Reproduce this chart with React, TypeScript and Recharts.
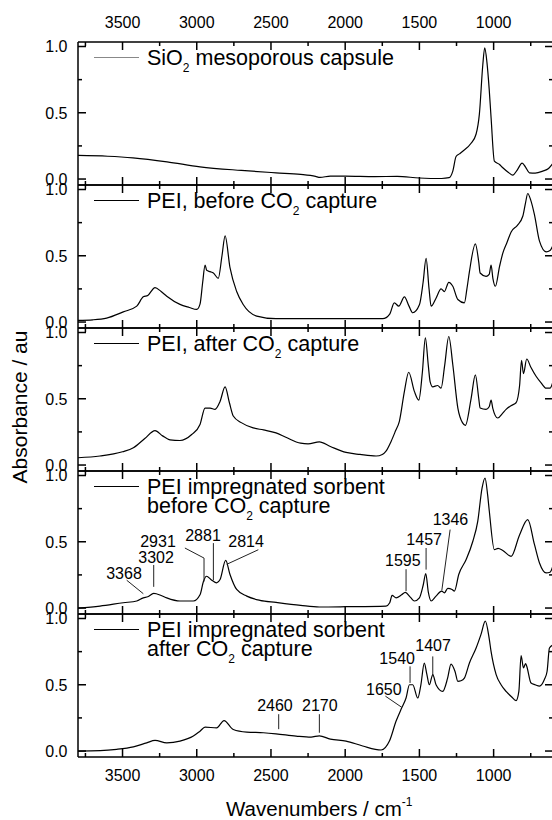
import React from 'react';
import { LineChart, Line, XAxis, YAxis, ReferenceLine, ReferenceDot } from 'recharts';

const FONT = '"Liberation Sans", Arial, Helvetica, sans-serif';

// wavenumber ticks: labelled majors every 500, minors in between
const xTicks = [3750, 3500, 3250, 3000, 2750, 2500, 2250, 2000, 1750, 1500, 1250, 1000, 750];
const yTicks = [0, 0.25, 0.5, 0.75, 1];

// SiO2 mesoporous capsule
const sio2Wn = [3800, 3600, 3430, 3200, 2978, 2700, 2466, 2300, 2200, 2170, 2100, 2000, 1800, 1650, 1500, 1350, 1300, 1275, 1253, 1230, 1208, 1152, 1118, 1096, 1073, 1060, 1045, 1030, 1017, 995, 960, 938, 900, 871, 840, 808, 785, 759, 720, 669, 630, 600];
const sio2Abs = [0.178, 0.172, 0.16, 0.13, 0.092, 0.065, 0.047, 0.035, 0.02, 0.012, 0.022, 0.022, 0.018, 0.02, 0.008, 0.004, 0.01, 0.06, 0.17, 0.19, 0.21, 0.27, 0.34, 0.49, 0.86, 0.99, 0.88, 0.68, 0.46, 0.135, 0.11, 0.085, 0.05, 0.03, 0.07, 0.12, 0.09, 0.047, 0.045, 0.06, 0.08, 0.12];

// PEI, before CO2 capture
const peiBeforeWn = [3800, 3700, 3607, 3495, 3404, 3360, 3330, 3281, 3240, 3202, 3113, 3050, 3000, 2978, 2960, 2944, 2933, 2910, 2888, 2855, 2830, 2809, 2776, 2731, 2686, 2596, 2466, 2200, 1747, 1700, 1669, 1639, 1601, 1570, 1545, 1500, 1475, 1455, 1435, 1421, 1388, 1354, 1332, 1302, 1275, 1241, 1197, 1180, 1163, 1123, 1100, 1091, 1051, 1030, 1017, 1005, 988, 960, 938, 910, 882, 840, 803, 785, 770, 750, 725, 691, 646, 620, 600];
const peiBeforeAbs = [0.013, 0.017, 0.03, 0.077, 0.12, 0.19, 0.2, 0.26, 0.23, 0.195, 0.133, 0.11, 0.095, 0.135, 0.3, 0.43, 0.39, 0.38, 0.37, 0.33, 0.5, 0.65, 0.41, 0.23, 0.13, 0.045, 0.025, 0.025, 0.025, 0.06, 0.145, 0.12, 0.19, 0.12, 0.07, 0.13, 0.3, 0.48, 0.25, 0.12, 0.18, 0.25, 0.23, 0.3, 0.27, 0.17, 0.145, 0.25, 0.38, 0.59, 0.45, 0.37, 0.345, 0.36, 0.43, 0.33, 0.27, 0.42, 0.52, 0.6, 0.68, 0.73, 0.8, 0.9, 0.97, 0.92, 0.81, 0.61, 0.53, 0.54, 0.58];

// PEI, after CO2 capture
const peiAfterWn = [3800, 3652, 3500, 3427, 3350, 3281, 3230, 3180, 3113, 3034, 2978, 2944, 2910, 2877, 2843, 2809, 2780, 2754, 2700, 2620, 2550, 2466, 2400, 2300, 2250, 2174, 2100, 1994, 1900, 1792, 1750, 1725, 1690, 1660, 1635, 1601, 1572, 1534, 1504, 1480, 1460, 1440, 1428, 1410, 1377, 1354, 1330, 1302, 1275, 1241, 1210, 1190, 1152, 1123, 1100, 1091, 1051, 1030, 1017, 1006, 972, 940, 916, 880, 849, 825, 812, 799, 777, 750, 714, 680, 646, 620, 600];
const peiAfterAbs = [0.055, 0.068, 0.1, 0.13, 0.2, 0.26, 0.22, 0.19, 0.185, 0.23, 0.306, 0.43, 0.43, 0.42, 0.48, 0.59, 0.47, 0.37, 0.32, 0.28, 0.265, 0.243, 0.21, 0.165, 0.16, 0.175, 0.14, 0.095, 0.08, 0.068, 0.08, 0.105, 0.18, 0.26, 0.33, 0.556, 0.7, 0.556, 0.49, 0.7, 0.96, 0.75, 0.63, 0.59, 0.6, 0.58, 0.75, 0.97, 0.757, 0.43, 0.32, 0.3, 0.5, 0.68, 0.5, 0.43, 0.42, 0.44, 0.49, 0.43, 0.355, 0.39, 0.42, 0.45, 0.47, 0.6, 0.79, 0.69, 0.8, 0.74, 0.67, 0.62, 0.58, 0.58, 0.63];

// PEI impregnated sorbent, before CO2 capture
const sorbBeforeWn = [3800, 3652, 3495, 3404, 3360, 3330, 3290, 3240, 3202, 3113, 3023, 2978, 2955, 2935, 2899, 2866, 2843, 2805, 2776, 2731, 2663, 2574, 2466, 2300, 2174, 1994, 1725, 1700, 1684, 1657, 1620, 1595, 1560, 1534, 1500, 1475, 1457, 1440, 1421, 1388, 1350, 1332, 1309, 1280, 1264, 1235, 1185, 1140, 1107, 1078, 1058, 1040, 1029, 995, 970, 938, 882, 826, 770, 725, 691, 646, 620, 600];
const sorbBeforeAbs = [0.0, 0.015, 0.04, 0.053, 0.077, 0.085, 0.11, 0.095, 0.077, 0.053, 0.053, 0.1, 0.2, 0.24, 0.21, 0.19, 0.215, 0.36, 0.253, 0.14, 0.09, 0.058, 0.042, 0.02, 0.008, 0.01, 0.015, 0.04, 0.095, 0.077, 0.1, 0.118, 0.08, 0.053, 0.077, 0.17, 0.26, 0.12, 0.053, 0.09, 0.128, 0.115, 0.148, 0.14, 0.128, 0.253, 0.366, 0.504, 0.654, 0.905, 0.98, 0.85, 0.73, 0.44, 0.45, 0.434, 0.39, 0.55, 0.667, 0.48, 0.34, 0.265, 0.27, 0.32];

// PEI impregnated sorbent, after CO2 capture
const sorbAfterWn = [3800, 3650, 3539, 3427, 3337, 3281, 3202, 3113, 3023, 2978, 2944, 2866, 2816, 2754, 2663, 2551, 2466, 2331, 2230, 2174, 2100, 1994, 1882, 1758, 1702, 1657, 1619, 1590, 1567, 1545, 1511, 1490, 1467, 1450, 1433, 1410, 1388, 1343, 1310, 1287, 1260, 1241, 1220, 1197, 1163, 1118, 1085, 1056, 1030, 1017, 983, 950, 916, 880, 849, 830, 815, 799, 785, 777, 748, 720, 691, 658, 640, 624, 600];
const sorbAfterAbs = [0.0, 0.003, 0.013, 0.032, 0.062, 0.08, 0.062, 0.075, 0.113, 0.15, 0.18, 0.175, 0.23, 0.163, 0.143, 0.138, 0.13, 0.113, 0.105, 0.115, 0.09, 0.075, 0.038, 0.008, 0.075, 0.226, 0.326, 0.4, 0.5, 0.5, 0.4, 0.5, 0.664, 0.58, 0.5, 0.577, 0.5, 0.45, 0.55, 0.656, 0.6, 0.526, 0.53, 0.55, 0.664, 0.777, 0.88, 0.98, 0.85, 0.75, 0.577, 0.5, 0.45, 0.41, 0.38, 0.45, 0.72, 0.627, 0.66, 0.64, 0.513, 0.5, 0.49, 0.54, 0.6, 0.777, 0.8];

const legends = [
  ['SiO₂ mesoporous capsule'],
  ['PEI, before CO₂ capture'],
  ['PEI, after CO₂ capture'],
  ['PEI impregnated sorbent', 'before CO₂ capture'],
  ['PEI impregnated sorbent', 'after CO₂ capture'],
];

// peak labels: text, text centre (wavenumber, absorbance), leader polyline
const sorbBeforeNotes = [
  { text: '3368', at: [3490, 0.264], line: [[3472, 0.21], [3360, 0.108]] },
  { text: '3302', at: [3274, 0.385], line: [[3290, 0.325], [3290, 0.16]] },
  { text: '2931', at: [3261, 0.506], line: [[3080, 0.453], [2951, 0.377], [2951, 0.2]] },
  { text: '2881', at: [2958, 0.551], line: [[2888, 0.49], [2888, 0.21]] },
  { text: '2814', at: [2668, 0.506], line: [[2585, 0.44], [2798, 0.33]] },
  { text: '1595', at: [1612, 0.359], line: [[1590, 0.293], [1590, 0.128]] },
  { text: '1457', at: [1468, 0.517], line: [[1455, 0.453], [1455, 0.29]] },
  { text: '1346', at: [1291, 0.667], line: [[1293, 0.592], [1349, 0.133]] },
];
const sorbAfterNotes = [
  { text: '2460', at: [2473, 0.346], line: [[2448, 0.278], [2448, 0.165]] },
  { text: '2170', at: [2171, 0.346], line: [[2174, 0.278], [2174, 0.138]] },
  { text: '1650', at: [1740, 0.464], line: [[1729, 0.414], [1619, 0.33]] },
  { text: '1540', at: [1650, 0.697], line: [[1563, 0.639], [1563, 0.514]] },
  { text: '1407', at: [1408, 0.797], line: [[1410, 0.714], [1410, 0.564]] },
];

const panels = [
  { wn: sio2Wn, abs: sio2Abs, notes: [] as typeof sorbAfterNotes },
  { wn: peiBeforeWn, abs: peiBeforeAbs, notes: [] as typeof sorbAfterNotes },
  { wn: peiAfterWn, abs: peiAfterAbs, notes: [] as typeof sorbAfterNotes },
  { wn: sorbBeforeWn, abs: sorbBeforeAbs, notes: sorbBeforeNotes },
  { wn: sorbAfterWn, abs: sorbAfterAbs, notes: sorbAfterNotes },
];

const LEFT = 78;
const RIGHT = 553;
const TOP = 42;
const PANEL_H = 143;

const XTick = (props: any) => {
  const { x, y, payload, side, showLabel } = props;
  const major = payload.value % 500 === 0;
  const len = major ? 8 : 4;
  const dir = side === 'top' ? 1 : -1;
  return (
    <g>
      <line x1={x} x2={x} y1={y} y2={y + dir * len} stroke="#000" strokeWidth={1.5} />
      {showLabel && major && (
        <text x={x} y={side === 'top' ? y - 14 : y + 24} textAnchor="middle" fontSize={16} fontFamily={FONT} fill="#000">
          {payload.value}
        </text>
      )}
    </g>
  );
};

const YTick = (props: any) => {
  const { x, y, payload, side } = props;
  const major = Math.abs((payload.value * 2) % 1) < 1e-6;
  const len = major ? 8 : 4;
  const dir = side === 'left' ? 1 : -1;
  return (
    <g>
      <line x1={x} x2={x + dir * len} y1={y} y2={y} stroke="#000" strokeWidth={1.5} />
      {side === 'left' && major && (
        <text x={x - 10.5} y={y} dy="0.36em" textAnchor="end" fontSize={16} fontFamily={FONT} fill="#000">
          {payload.value.toFixed(1)}
        </text>
      )}
    </g>
  );
};

const SubText = ({ text }: { text: string }) => {
  const parts = text.split('₂');
  const out: React.ReactNode[] = [];
  parts.forEach((p, i) => {
    if (i > 0) {
      out.push(<tspan key={'s' + i} dy={7} fontSize={12}>2</tspan>);
      out.push(<tspan key={'p' + i} dy={-7}>{p}</tspan>);
    } else {
      out.push(<tspan key={'p' + i}>{p}</tspan>);
    }
  });
  return <>{out}</>;
};

const axisLine = { stroke: '#000', strokeWidth: 1.5 };

function Panel({ index }: { index: number }) {
  const { wn, abs, notes } = panels[index];
  const data = wn.map((w, i) => ({ wn: w, a: abs[i] }));
  // axes get 1px of room each so that recharts draws them; the plot box is exactly the panel
  return (
    <div style={{ position: 'absolute', left: 0, top: TOP + index * PANEL_H - 1 }}>
      <LineChart width={RIGHT + 1} height={PANEL_H + 2} data={data} margin={{ top: 0, right: 0, bottom: 0, left: LEFT - 1 }}>
        <XAxis xAxisId="b" dataKey="wn" type="number" domain={[600, 3800]} reversed ticks={xTicks} interval={0}
          orientation="bottom" height={1} tickSize={0} tickMargin={0} tickLine={false} axisLine={axisLine} allowDataOverflow
          tick={(p: any) => <XTick {...p} side="bottom" showLabel={index === 4} />} />
        <XAxis xAxisId="t" dataKey="wn" type="number" domain={[600, 3800]} reversed ticks={xTicks} interval={0}
          orientation="top" height={1} tickSize={0} tickMargin={0} tickLine={false} axisLine={axisLine} allowDataOverflow
          tick={(p: any) => <XTick {...p} side="top" showLabel={index === 0} />} />
        <YAxis yAxisId="l" type="number" domain={[-0.045, 1.034]} ticks={yTicks} interval={0}
          width={1} tickSize={0} tickMargin={0} tickLine={false} axisLine={axisLine} allowDataOverflow
          tick={(p: any) => <YTick {...p} side="left" />} />
        <YAxis yAxisId="r" orientation="right" type="number" domain={[-0.045, 1.034]} ticks={yTicks} interval={0}
          width={1} tickSize={0} tickMargin={0} tickLine={false} axisLine={axisLine} allowDataOverflow
          tick={(p: any) => <YTick {...p} side="right" />} />
        <Line xAxisId="b" yAxisId="l" dataKey="a" type="monotone" stroke="#000" strokeWidth={1.2} dot={false} isAnimationActive={false} />
        {notes.flatMap((n) =>
          n.line.slice(1).map((pt, k) => (
            <ReferenceLine key={n.text + 'l' + k} xAxisId="b" yAxisId="l" stroke="#222" strokeWidth={1}
              segment={[{ x: n.line[k][0], y: n.line[k][1] }, { x: pt[0], y: pt[1] }]} />
          ))
        )}
        {notes.map((n) => (
          <ReferenceDot key={n.text} xAxisId="b" yAxisId="l" x={n.at[0]} y={n.at[1]} r={0}
            shape={(p: any) => (
              <text x={p.cx} y={p.cy} dy="0.36em" textAnchor="middle" fontSize={16} fontFamily={FONT} fill="#000">{n.text}</text>
            )} />
        ))}
      </LineChart>
    </div>
  );
}

export default function App() {
  return (
    <div style={{ position: 'absolute', left: 0, top: 0, width: 552, height: 820, overflow: 'hidden', background: '#fff' }}>
      <style>{'.recharts-surface{overflow:visible}'}</style>
      {panels.map((_, i) => <Panel key={i} index={i} />)}
      <svg width={552} height={820} style={{ position: 'absolute', left: 0, top: 0, pointerEvents: 'none' }}>
        {legends.map((lines, i) => {
          const t = TOP + i * PANEL_H;
          return (
            <g key={i}>
              <line x1={94} x2={139} y1={t + 15.5} y2={t + 15.5} stroke={i === 0 ? '#888' : '#000'} strokeWidth={1.2} />
              {lines.map((s, k) => (
                <text key={k} x={147} y={t + 23 + k * 18.5} fontSize={21.5} fontFamily={FONT} fill="#000">
                  <SubText text={s} />
                </text>
              ))}
            </g>
          );
        })}
        <text transform="translate(27,407) rotate(-90)" textAnchor="middle" fontSize={21} fontFamily={FONT} fill="#000">
          Absorbance / au
        </text>
        <text x={226} y={816} fontSize={20.5} fontFamily={FONT} fill="#000">
          Wavenumbers / cm<tspan dy={-10} fontSize={12}>-1</tspan>
        </text>
      </svg>
    </div>
  );
}
